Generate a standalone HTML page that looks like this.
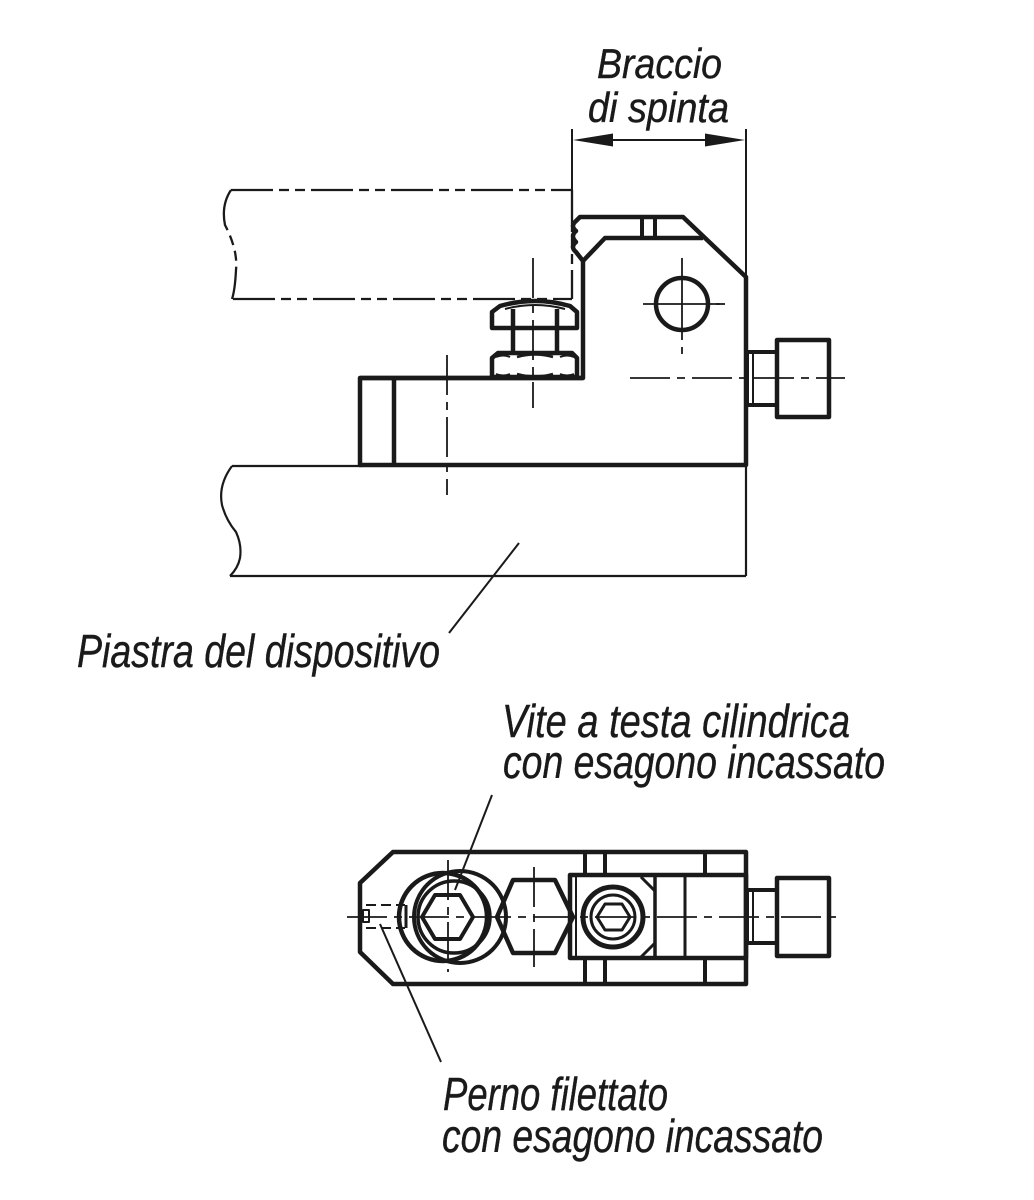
<!DOCTYPE html>
<html>
<head>
<meta charset="utf-8">
<style>
html,body{margin:0;padding:0;background:#fff;}
svg{display:block;}
text{font-family:"Liberation Sans","DejaVu Sans",sans-serif;font-style:italic;fill:#1a1a1a;stroke:#1a1a1a;stroke-width:0.4;}
</style>
</head>
<body>
<svg width="1034" height="1200" viewBox="0 0 1034 1200" xmlns="http://www.w3.org/2000/svg">
<rect width="1034" height="1200" fill="#fff"/>
<g fill="none" stroke="#1a1a1a" stroke-linejoin="round">

<!-- ===== TOP VIEW ===== -->
<line x1="572" y1="129" x2="572" y2="190" stroke-width="2"/>
<line x1="746" y1="129" x2="746" y2="278" stroke-width="2"/>
<line x1="590" y1="140" x2="728" y2="140" stroke-width="2"/>
<polygon points="573,140 613,133.5 613,146.5" fill="#1a1a1a" stroke="none"/>
<polygon points="745,140 705,133.5 705,146.5" fill="#1a1a1a" stroke="none"/>

<!-- phantom workpiece -->
<g stroke-width="2.3" stroke-dasharray="42 6 10 6 10 6">
<line x1="231" y1="190" x2="572" y2="190"/>
<line x1="233" y1="299" x2="572" y2="299"/>
<line x1="572" y1="190" x2="572" y2="299"/>
<path d="M231,190 Q221,205 225,225 Q238,250 236,270 Q235,290 232,299"/>
</g>

<!-- plate -->
<g stroke-width="2.2">
<line x1="232" y1="466" x2="362" y2="466"/>
<line x1="230" y1="576" x2="746" y2="576"/>
<line x1="746" y1="465" x2="746" y2="576"/>
<path d="M232,466 Q218,485 222,505 Q226,520 236,532 Q242,545 240,558 Q238,568 230,576"/>
</g>
<line x1="519" y1="543" x2="449" y2="633" stroke-width="2"/>

<!-- block -->
<path d="M360,378 L360,465 L746,465 L746,277 L683,217 L580,217 L576,221 Q570,226 576,231 Q570,236 576,242 Q570,247 576,252 L583,261 L583,378 Z" stroke-width="4.5"/>
<line x1="360" y1="378" x2="583" y2="378" stroke-width="4.5"/>
<line x1="394" y1="378" x2="394" y2="465" stroke-width="4.5"/>
<path d="M583,261 L605,238 L703,238" stroke-width="4.5"/>
<line x1="642" y1="217" x2="642" y2="238" stroke-width="4"/>
<line x1="655" y1="217" x2="655" y2="238" stroke-width="4"/>

<!-- hole -->
<circle cx="682" cy="304" r="26" stroke-width="4.5"/>
<g stroke-width="1.8">
<line x1="682" y1="258" x2="682" y2="340"/>
<line x1="682" y1="347" x2="682" y2="354"/>
<line x1="643" y1="304" x2="720" y2="304"/>
<line x1="716" y1="304" x2="725" y2="304"/>
</g>

<!-- nuts -->
<path d="M492,328 L492,312 L500,306 Q535,296 570,306 L577,312 L577,328 Z" stroke-width="4.5"/>
<path d="M505,309 Q535,301 565,309" stroke-width="2"/>
<line x1="513" y1="309" x2="513" y2="353" stroke-width="4.5"/>
<line x1="557" y1="309" x2="557" y2="353" stroke-width="4.5"/>
<path d="M492,377 L492,358 L498,353 L572,353 L577,358 L577,377 Z" stroke-width="4.5"/>
<path d="M517,357 Q535,352 553,357 M517,374 Q535,379 553,374" stroke-width="2.5"/>
<path d="M496,357 Q503,354 510,357 M560,357 Q567,354 574,357 M496,374 Q503,377 510,374 M560,374 Q567,377 574,374" stroke-width="2"/>

<g stroke-width="1.8" stroke-dasharray="40 7 8 7">
<line x1="533" y1="258" x2="533" y2="408"/>
<line x1="447" y1="355" x2="447" y2="495"/>
<line x1="630" y1="378" x2="845" y2="378"/>
</g>

<rect x="747" y="352" width="30" height="53" stroke-width="4"/>
<line x1="753" y1="352" x2="753" y2="405" stroke-width="2"/>
<rect x="777" y="340" width="52" height="77" stroke-width="4.5"/>

<!-- ===== BOTTOM VIEW ===== -->
<polygon points="393,852 746,852 746,984 393,984 360,952 360,883" stroke-width="4.5"/>
<rect x="570" y="875" width="176" height="83" stroke-width="4.5"/>
<line x1="576" y1="875" x2="576" y2="958" stroke-width="2"/>
<g stroke-width="4">
<line x1="585" y1="852" x2="585" y2="875"/><line x1="605" y1="852" x2="605" y2="875"/><line x1="705" y1="852" x2="705" y2="875"/>
<line x1="585" y1="958" x2="585" y2="984"/><line x1="605" y1="958" x2="605" y2="984"/><line x1="705" y1="958" x2="705" y2="984"/>
</g>
<line x1="655" y1="875" x2="655" y2="958" stroke-width="3.5"/>
<line x1="685" y1="875" x2="685" y2="958" stroke-width="3"/>
<line x1="641" y1="877" x2="655" y2="891" stroke-width="3"/>
<line x1="641" y1="957" x2="655" y2="943" stroke-width="3"/>

<circle cx="613" cy="917" r="30" stroke-width="5"/>
<circle cx="613" cy="917" r="22" stroke-width="3"/>
<polygon points="597,917 605,904 622,904 630,917 622,930 605,930" stroke-width="3"/>

<polygon points="497,917 513,880 555,880 573,917 555,953 513,953" stroke-width="4.5"/>

<circle cx="443" cy="917" r="44" stroke-width="4.5"/>
<circle cx="460" cy="917" r="46" stroke-width="4"/>
<circle cx="454" cy="917" r="36" stroke-width="3.5"/>
<polygon points="422,917 435,895 460,895 473,917 460,939 435,939" stroke-width="4"/>

<g stroke-width="2" stroke-dasharray="10 5">
<line x1="366" y1="905" x2="405" y2="905"/>
<line x1="366" y1="928" x2="405" y2="928"/>
</g>
<rect x="363" y="910" width="6" height="12" stroke-width="2"/>
<line x1="406" y1="905" x2="406" y2="928" stroke-width="3"/>

<rect x="747" y="890" width="30" height="53" stroke-width="4"/>
<line x1="753" y1="890" x2="753" y2="943" stroke-width="2"/>
<rect x="777" y="878" width="52" height="78" stroke-width="4.5"/>

<g stroke-width="1.8" stroke-dasharray="40 7 8 7">
<line x1="347" y1="917" x2="842" y2="917"/>
<line x1="448" y1="860" x2="448" y2="972"/>
<line x1="534" y1="867" x2="534" y2="967"/>
</g>

<line x1="492" y1="795" x2="455" y2="890" stroke-width="2"/>
<line x1="380" y1="924" x2="441" y2="1062" stroke-width="2"/>
</g>

<text x="597" y="78" font-size="42" textLength="125" lengthAdjust="spacingAndGlyphs">Braccio</text>
<text x="588" y="122" font-size="42" textLength="141" lengthAdjust="spacingAndGlyphs">di spinta</text>
<text x="77" y="667" font-size="46" textLength="363" lengthAdjust="spacingAndGlyphs">Piastra del dispositivo</text>
<text x="502" y="737" font-size="46" textLength="348" lengthAdjust="spacingAndGlyphs">Vite a testa cilindrica</text>
<text x="503" y="778" font-size="46" textLength="382" lengthAdjust="spacingAndGlyphs">con esagono incassato</text>
<text x="443" y="1110" font-size="46" textLength="225" lengthAdjust="spacingAndGlyphs">Perno filettato</text>
<text x="442" y="1152" font-size="46" textLength="381" lengthAdjust="spacingAndGlyphs">con esagono incassato</text>
</svg>
</body>
</html>
